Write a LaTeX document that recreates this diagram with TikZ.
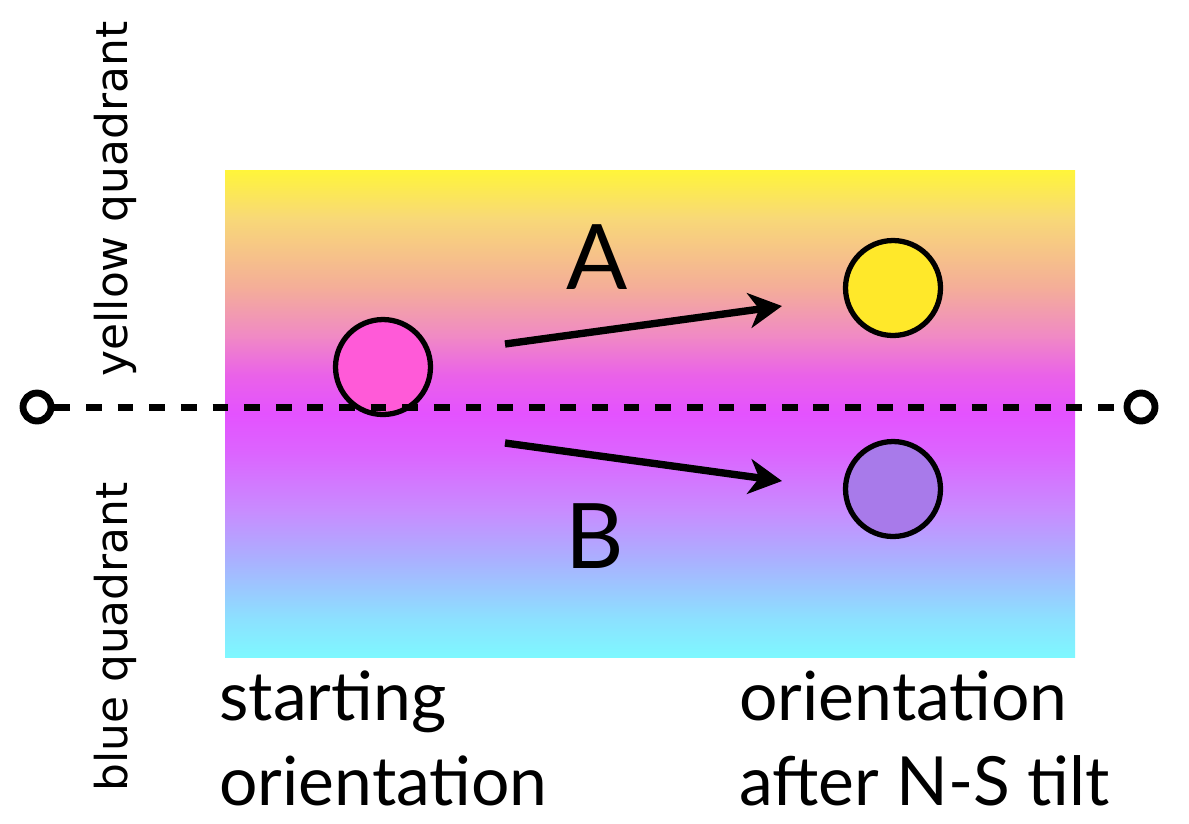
\documentclass[tikz,border=0pt]{standalone}
\usepackage{fontspec}
\setmainfont{Lato}
\newfontfamily\sidefont{DejaVu Sans}
\usetikzlibrary{arrows.meta}
\definecolor{ballpink}{HTML}{FF5AD8}
\definecolor{ballyellow}{HTML}{FFE82A}
\definecolor{ballviolet}{HTML}{A87AEA}
\definecolor{qcyan}{HTML}{7EF8FF}
\definecolor{qsky}{HTML}{8CE0FF}
\definecolor{qblue}{HTML}{AAB0FF}
\definecolor{qlilac}{HTML}{C88CFF}
\definecolor{qviolet}{HTML}{DC64FF}
\definecolor{qmagenta}{HTML}{E452FF}
\definecolor{qorchid}{HTML}{EA62E8}
\definecolor{qrose}{HTML}{F08AC4}
\definecolor{qpeach}{HTML}{F4AE98}
\definecolor{qgold}{HTML}{F8D878}
\definecolor{qyellow}{HTML}{FFF53A}
\pgfdeclareverticalshading{quadrants}{100bp}{color(0bp)=(qcyan); color(25bp)=(qcyan);
  color(29bp)=(qsky); color(35bp)=(qblue); color(40bp)=(qlilac); color(46bp)=(qviolet);
  color(50bp)=(qmagenta); color(54bp)=(qorchid); color(58bp)=(qrose); color(63bp)=(qpeach);
  color(70bp)=(qgold); color(75bp)=(qyellow); color(100bp)=(qyellow)}
\begin{document}
\begin{tikzpicture}[x=0.02cm, y=-0.02cm,
      >={Stealth[length=0.66cm, width=0.7cm, inset=0.2cm]},
      ball/.style={circle, draw, line width=3pt, minimum size=1.9cm, inner sep=0pt},
      pole/.style={circle, draw, line width=3.9pt, minimum size=0.56cm, inner sep=0pt, fill=white},
      tiltarrow/.style={->, line width=4.2pt},
      equator/.style={line width=4pt, dash pattern=on 9pt off 9pt},
      caption/.style={font=\fontsize{38.6}{48.2}\selectfont, align=left, anchor=base west, inner sep=0pt},
      letter/.style={font=\fontsize{51.5}{60}\selectfont, anchor=base, inner sep=0pt},
      side/.style={font=\sidefont\fontsize{25}{30}\selectfont, rotate=90, anchor=base, inner sep=0pt}]
    % pixel grid of the 1189 x 823 frame, y runs down
    \useasboundingbox (0,0) rectangle (1189,823);
    \shade[shading=quadrants] (225,170) rectangle (1075,657);
    \node[side] (yellowlab) at (127,199) {yellow quadrant};
    \node[side] (bluelab) at (127,637) {blue quadrant};
    \node[ball, fill=ballpink] (start) at (383,367) {};
    \node[ball, fill=ballyellow] (tiltA) at (893,288) {};
    \node[ball, fill=ballviolet] (tiltB) at (893,489) {};
    \node[pole] (west) at (37,407) {};
    \node[pole] (east) at (1141,407) {};
    \draw[equator] (west) -- (east);
    \coordinate (a0) at (505,344);
    \coordinate (a1) at (782,306);
    \coordinate (b0) at (505,443);
    \coordinate (b1) at (782,481);
    \draw[tiltarrow] (a0) -- (a1);
    \draw[tiltarrow] (b0) -- (b1);
    \node[letter] (labA) at (597,289) {A};
    \node[letter] (labB) at (595,568) {B};
    % base of a two-line node is its last line
    \node[caption] (startcap) at (219,805) {starting\\orientation};
    \node[caption] (tiltcap) at (739,805) {orientation\\after N-S tilt};
  \end{tikzpicture}
\end{document}
